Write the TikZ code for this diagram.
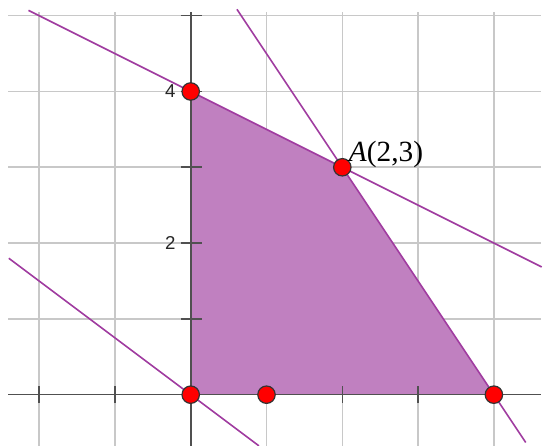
\documentclass[tikz,border=0pt]{standalone}
\usepackage{fontspec}
\setmainfont{Liberation Serif}
\newfontfamily\axisfont{Liberation Sans}
\definecolor{gridgray}{RGB}{200,200,200}
\definecolor{axisgray}{RGB}{80,80,80}
\definecolor{regionfill}{RGB}{192,128,192}
\definecolor{lineviolet}{RGB}{160,60,160}
\begin{document}
\begin{tikzpicture}[x=1cm,y=1cm,
  gridline/.style={gridgray,line width=0.6pt},
  axisline/.style={axisgray,line width=0.6pt},
  constraint/.style={lineviolet,line width=0.6pt},
  ptdot/.style={circle,fill=red,draw=black!80,line width=0.45pt,inner sep=0pt,minimum size=0.23cm},
  ticklabel/.style={font=\axisfont\fontsize{7}{8}\selectfont,text=black!85}
]
\useasboundingbox (-2.516,-0.677) rectangle (4.661,5.207);
% grid
\foreach \x in {-2,-1,1,2,3,4} \draw[gridline] (\x,-0.7) -- (\x,5.05);
\foreach \y in {1,2,3,4,5} \draw[gridline] (-2.41,\y) -- (4.62,\y);
% feasible region
\coordinate (O) at (0,0);
\coordinate (B) at (0,4);
\coordinate (A) at (2,3);
\coordinate (C) at (1,0);
\coordinate (D) at (4,0);
\fill[regionfill] (O) -- (B) -- (A) -- (D) -- cycle;
% axes
\draw[axisline] (-2.41,0) -- (4.62,0);
\draw[axisline] (0,-0.7) -- (0,5.05);
\foreach \y in {1,2,3,4,5} \draw[axisline] (-0.13,\y) -- (0.15,\y);
\foreach \x in {-2,-1,1,2,3,4} \draw[axisline] (\x,-0.11) -- (\x,0.11);
\node[ticklabel] (l4) at (-0.27,4) {4};
\node[ticklabel] (l2) at (-0.27,2) {2};
% constraint lines
\coordinate (L1a) at (-2.14,5.07);
\coordinate (L1b) at (4.63,1.685);
\coordinate (L2a) at (0.61,5.085);
\coordinate (L2b) at (4.42,-0.63);
\coordinate (L3a) at (-2.40,1.80);
\coordinate (L3b) at (0.90,-0.675);
\draw[constraint] (L1a) -- (L1b);
\draw[constraint] (L2a) -- (L2b);
\draw[constraint] (L3a) -- (L3b);
% points
\node[ptdot] (pO) at (O) {};
\node[ptdot] (pB) at (B) {};
\node[ptdot] (pA) at (A) {};
\node[ptdot] (pC) at (C) {};
\node[ptdot] (pD) at (D) {};
\node[anchor=base west,inner sep=0pt,font=\fontsize{11}{13}\selectfont] (lA) at (2.08,3.08) {\textit{A}(2,3)};
\end{tikzpicture}
\end{document}
